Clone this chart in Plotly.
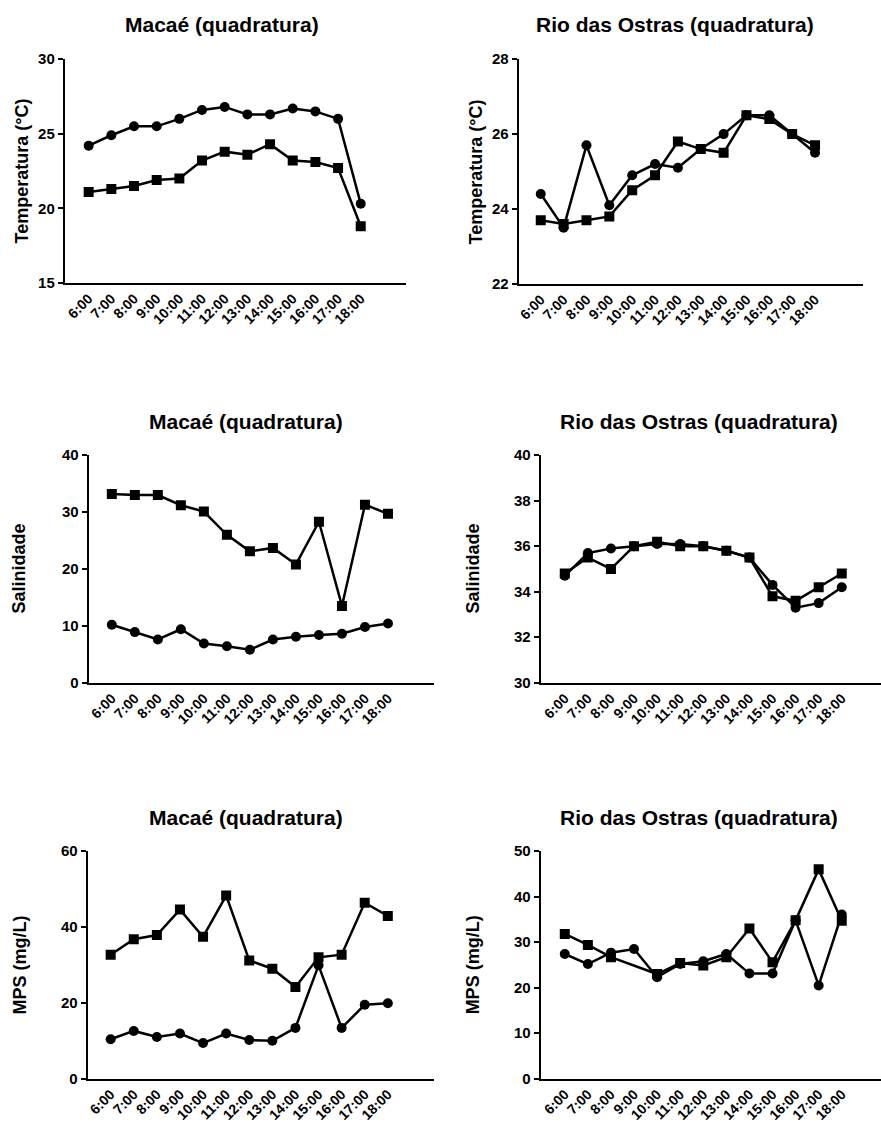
import plotly.graph_objects as go

# ---------------- data ----------------
horas = ["6:00", "7:00", "8:00", "9:00", "10:00", "11:00", "12:00",
         "13:00", "14:00", "15:00", "16:00", "17:00", "18:00"]

titulo_macae = "Macaé (quadratura)"
titulo_rio = "Rio das Ostras (quadratura)"

# Temperatura (°C)
mac_temp_circ = [24.2, 24.9, 25.5, 25.5, 26.0, 26.6, 26.8, 26.3, 26.3, 26.7, 26.5, 26.0, 20.3]
mac_temp_quad = [21.1, 21.3, 21.5, 21.9, 22.0, 23.2, 23.8, 23.6, 24.3, 23.2, 23.1, 22.7, 18.8]
rio_temp_circ = [24.4, 23.5, 25.7, 24.1, 24.9, 25.2, 25.1, 25.6, 26.0, 26.5, 26.5, 26.0, 25.5]
rio_temp_quad = [23.7, 23.6, 23.7, 23.8, 24.5, 24.9, 25.8, 25.6, 25.5, 26.5, 26.4, 26.0, 25.7]

# Salinidade
mac_sal_circ = [10.2, 8.9, 7.6, 9.4, 6.9, 6.4, 5.8, 7.6, 8.1, 8.4, 8.6, 9.8, 10.4]
mac_sal_quad = [33.2, 33.0, 33.0, 31.2, 30.1, 26.0, 23.1, 23.7, 20.8, 28.3, 13.5, 31.3, 29.7]
rio_sal_circ = [34.7, 35.7, 35.9, 36.0, 36.1, 36.1, 36.0, 35.8, 35.5, 34.3, 33.3, 33.5, 34.2]
rio_sal_quad = [34.8, 35.5, 35.0, 36.0, 36.2, 36.0, 36.0, 35.8, 35.5, 33.8, 33.6, 34.2, 34.8]

# MPS (mg/L)
mac_mps_circ = [10.4, 12.6, 11.0, 11.9, 9.4, 11.9, 10.2, 10.0, 13.4, 29.9, 13.4, 19.5, 19.9]
mac_mps_quad = [32.7, 36.8, 37.9, 44.6, 37.4, 48.3, 31.2, 29.0, 24.2, 32.0, 32.7, 46.4, 42.9]
rio_mps_circ = [27.4, 25.2, 27.7, 28.5, 22.3, 25.2, 25.8, 27.4, 23.1, 23.1, 34.8, 20.5, 36.1]
rio_mps_quad = [31.8, 29.4, 26.7, None, 23.0, 25.4, 24.9, 26.7, 33.0, 25.6, 34.8, 46.0, 34.7]

ticks_temp_mac = [15, 20, 25, 30]
ticks_temp_rio = [22, 24, 26, 28]
ticks_sal_mac = [0, 10, 20, 30, 40]
ticks_sal_rio = [30, 32, 34, 36, 38, 40]
ticks_mps_mac = [0, 20, 40, 60]
ticks_mps_rio = [0, 10, 20, 30, 40, 50]

# ---------------- layout helpers ----------------
W, H = 881, 1133
FONT = "Liberation Sans"

def px(x):
    return x / W

def py(y):
    return 1 - y / H

panels = [
    # (circ, quad, yticks, ytitle, title, x0, x1, ytop, ybot, xrange, title_xy, ytitle_xy)
    (mac_temp_circ, mac_temp_quad, ticks_temp_mac, "Temperatura (°C)", titulo_macae,
     63, 405, 51, 278, [-1.05, 14.0], (220, 16), (20, 164)),
    (rio_temp_circ, rio_temp_quad, ticks_temp_rio, "Temperatura (°C)", titulo_rio,
     518, 863, 51, 279, [-0.96, 14.1], (675, 16), (475, 165)),
    (mac_sal_circ, mac_sal_quad, ticks_sal_mac, "Salinidade", titulo_macae,
     87, 433, 453, 684, [-1.0, 14.0], (245, 419), (18, 568)),
    (rio_sal_circ, rio_sal_quad, ticks_sal_rio, "Salinidade", titulo_rio,
     540, 881, 453, 684, [-1.04, 13.7], (699, 419), (473, 568)),
    (mac_mps_circ, mac_mps_quad, ticks_mps_mac, "MPS (mg/L)", titulo_macae,
     86, 433, 855, 1086, [-0.99, 14.0], (245, 821), (18, 970)),
    (rio_mps_circ, rio_mps_quad, ticks_mps_rio, "MPS (mg/L)", titulo_rio,
     540, 881, 855, 1086, [-1.04, 13.7], (699, 821), (473, 970)),
]

fig = go.Figure()
annotations = []
layout_axes = {}

for i, (circ, quad, yt, ytitle, title, x0, x1, yt_px, yb_px, xr, txy, ytxy) in enumerate(panels, start=1):
    xa = "x" if i == 1 else f"x{i}"
    ya = "y" if i == 1 else f"y{i}"
    fig.add_trace(go.Scatter(
        x=horas, y=quad, xaxis=xa, yaxis=ya, mode="lines+markers",
        connectgaps=True, showlegend=False,
        line=dict(color="black", width=2.5),
        marker=dict(symbol="square", size=10, color="black"),
    ))
    fig.add_trace(go.Scatter(
        x=horas, y=circ, xaxis=xa, yaxis=ya, mode="lines+markers",
        connectgaps=True, showlegend=False,
        line=dict(color="black", width=2.5),
        marker=dict(symbol="circle", size=10, color="black"),
    ))
    xkey = "xaxis" if i == 1 else f"xaxis{i}"
    ykey = "yaxis" if i == 1 else f"yaxis{i}"
    layout_axes[xkey] = dict(
        domain=[px(x0), px(x1)], anchor=ya, type="category",
        range=xr, showline=True, linecolor="black", linewidth=2.2,
        showgrid=False, zeroline=False, ticks="", tickangle=-45,
        tickfont=dict(family=FONT, size=14, color="black", weight="bold"),
    )
    layout_axes[ykey] = dict(
        domain=[py(yb_px), py(yt_px)], anchor=xa,
        range=[yt[0], yt[-1]], tickvals=yt, showline=True, linecolor="black",
        linewidth=2.2, showgrid=False, zeroline=False, ticks="outside",
        ticklen=5, tickwidth=2, tickcolor="black",
        tickfont=dict(family=FONT, size=15, color="black", weight="bold"),
    )
    annotations.append(dict(
        text=title, x=px(txy[0]), y=py(txy[1]), xref="paper", yref="paper",
        xanchor="center", yanchor="middle", showarrow=False,
        font=dict(family=FONT, size=21, color="black", weight="bold"),
    ))
    annotations.append(dict(
        text=ytitle, x=px(ytxy[0]), y=py(ytxy[1]), xref="paper", yref="paper",
        xanchor="center", yanchor="middle", showarrow=False, textangle=-90,
        font=dict(family=FONT, size=18, color="black", weight="bold"),
    ))

fig.update_layout(
    width=W, height=H, margin=dict(l=0, r=0, t=0, b=0),
    paper_bgcolor="white", plot_bgcolor="white",
    annotations=annotations, **layout_axes,
)

fig.write_html("out.html")
